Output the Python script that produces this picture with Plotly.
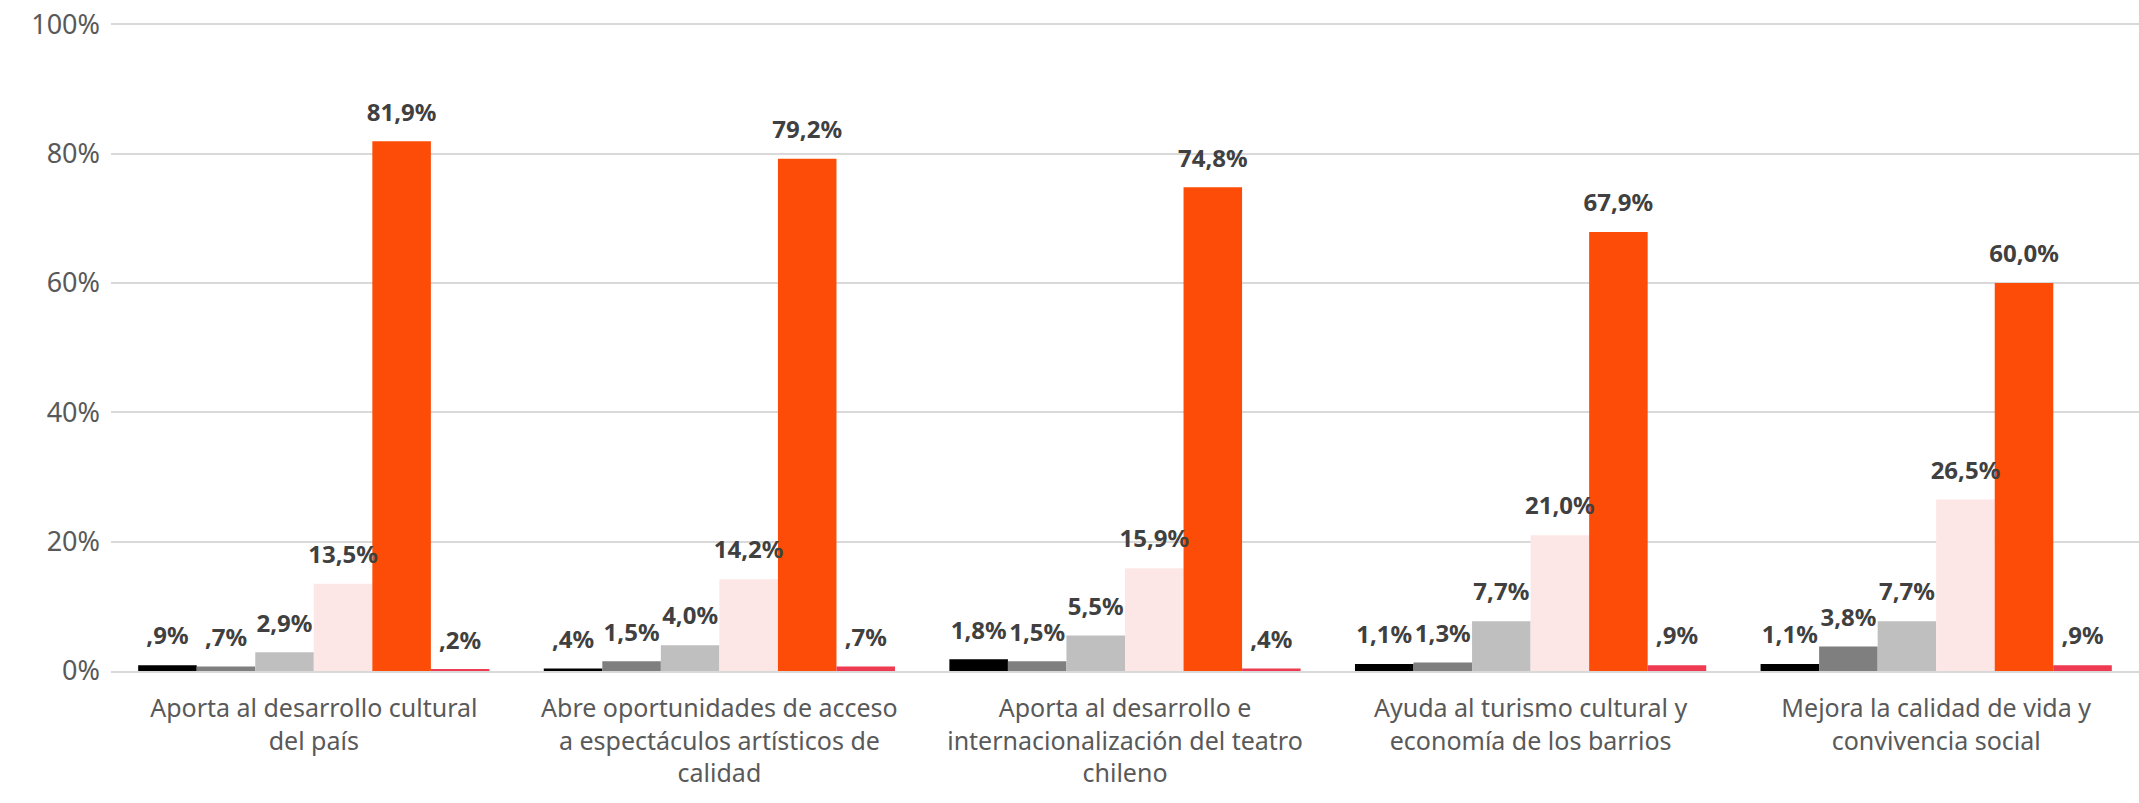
import plotly.graph_objects as go

categories = [
    "Aporta al desarrollo cultural<br>del país",
    "Abre oportunidades de acceso<br>a espectáculos artísticos de<br>calidad",
    "Aporta al desarrollo e<br>internacionalización del teatro<br>chileno",
    "Ayuda al turismo cultural y<br>economía de los barrios",
    "Mejora la calidad de vida y<br>convivencia social",
]

serie_1 = [0.9, 0.4, 1.8, 1.1, 1.1]
serie_2 = [0.7, 1.5, 1.5, 1.3, 3.8]
serie_3 = [2.9, 4.0, 5.5, 7.7, 7.7]
serie_4 = [13.5, 14.2, 15.9, 21.0, 26.5]
serie_5 = [81.9, 79.2, 74.8, 67.9, 60.0]
serie_6 = [0.2, 0.7, 0.4, 0.9, 0.9]

y_ticks = [0, 20, 40, 60, 80, 100]
y_tick_labels = ["0%", "20%", "40%", "60%", "80%", "100%"]

series = [serie_1, serie_2, serie_3, serie_4, serie_5, serie_6]
colors = ["#000000", "#7f7f7f", "#bfbfbf", "#fde7e6", "#fc4c07", "#ee3b52"]

GAP = 0.134


def fmt(v):
    # formato tipo Excel: ",9%" / "1,8%"
    s = f"{v:.1f}".replace(".", ",")
    if s.startswith("0,"):
        s = s[1:]
    return s + "%"


fig = go.Figure()
for i, vals in enumerate(series):
    fig.add_trace(go.Bar(
        x=categories, y=vals, marker_color=colors[i], marker_line_width=0,
        offsetgroup=str(i), showlegend=False, hoverinfo="skip",
    ))
# etiquetas como scatter agrupado, para dejar algo de aire sobre la barra
for i, vals in enumerate(series):
    fig.add_trace(go.Scatter(
        x=categories, y=vals, mode="markers+text", offsetgroup=str(i),
        marker=dict(size=22, opacity=0),
        text=[fmt(v) for v in vals], textposition="top center",
        textfont=dict(family="Noto Sans", size=24, color="#404040", weight="bold"),
        cliponaxis=False, showlegend=False, hoverinfo="skip",
    ))

fig.update_layout(
    barmode="group", bargap=GAP, bargroupgap=0,
    scattermode="group", scattergap=GAP,
    width=2139, height=803,
    margin=dict(l=111, r=0, t=23, b=132),
    plot_bgcolor="white", paper_bgcolor="white",
    font=dict(family="Noto Sans", color="#595959"),
)
fig.update_yaxes(
    range=[0, 100.2], tickvals=y_ticks, ticktext=y_tick_labels,
    showgrid=True, gridcolor="#d9d9d9", gridwidth=2, zeroline=False,
    tickfont=dict(size=27, color="#595959"), ticklabelstandoff=10,
    automargin=False,
)
fig.update_xaxes(
    showline=True, linecolor="#d9d9d9", linewidth=2,
    tickfont=dict(size=25, color="#595959"), ticks="", ticklabelstandoff=14,
    automargin=False,
)

fig.write_html(
    "out.html",
    config={"displayModeBar": False},
    post_script="document.body.style.margin='0';document.body.style.overflow='hidden';",
)
